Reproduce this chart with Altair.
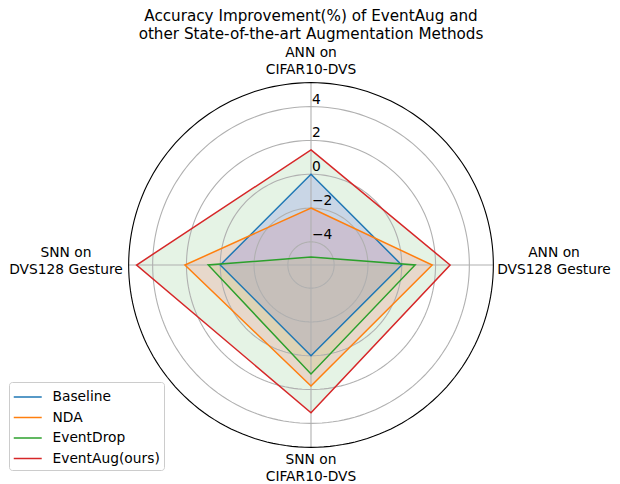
import altair as alt
import pandas as pd

# ---------------- data ----------------
categories = ["ANN on\nCIFAR10-DVS", "ANN on\nDVS128 Gesture",
              "SNN on\nCIFAR10-DVS", "SNN on\nDVS128 Gesture"]
series_names = ["Baseline", "NDA", "EventDrop", "EventAug(ours)"]
baseline = [0.0, 0.0, 0.0, 0.0]
nda = [-2.0, 1.80, 1.79, 2.09]
eventdrop = [-4.9, 0.79, 1.08, 0.71]
eventaug = [1.44, 2.86, 3.37, 4.95]
radial_ticks = [-4, -2, 0, 2, 4]
radial_tick_labels = ["−4", "−2", "0", "2", "4"]
r_min, r_max = -5.37, 5.42
title_lines = ["Accuracy Improvement(%) of EventAug and",
               "other State-of-the-art Augmentation Methods"]

# ---------------- style / layout ----------------
line_colors = ["#1f77b4", "#ff7f0e", "#2ca02c", "#d62728"]
fill_style = {"EventAug(ours)": ("#2ca02c", 0.12), "NDA": ("#f04137", 0.15),
              "Baseline": ("#5962ea", 0.20), "EventDrop": ("#afbe3c", 0.15)}
fill_order = ["EventAug(ours)", "NDA", "Baseline", "EventDrop"]
PX = 16.9            # pixels per radial unit
W = 400              # plot area size (px)
L = W / 2 / PX       # half-domain in radial units
label_radius_px = [212, 243, 195, 245]
label_nudge_px = [0, 12, 0, 12]
FONT = "DejaVu Sans"
FS = 13.8

n = len(categories)
rows = []
for name, vals in zip(series_names, [baseline, nda, eventdrop, eventaug]):
    for i, v in enumerate(vals):
        rows.append({"series": name, "idx": i, "angle": i * 360.0 / n, "value": v})
df = pd.DataFrame(rows)

grid_rows = []
for t in radial_ticks + [r_max]:
    for k in range(0, 360, 2):
        grid_rows.append({"tick": t, "k": k, "angle": float(k), "value": t})
grid_df = pd.DataFrame(grid_rows)

spoke_df = pd.DataFrame({"category": categories,
                         "angle": [i * 360.0 / n for i in range(n)]})
tick_df = pd.DataFrame({"tick": radial_ticks, "label": radial_tick_labels})
cat_df = pd.DataFrame({"category": categories,
                       "angle": [i * 360.0 / n for i in range(n)],
                       "rl": label_radius_px, "nudge": label_nudge_px})

xs = alt.Scale(domain=[-L, L], nice=False, zero=False)
ys = alt.Scale(domain=[-L, L], nice=False, zero=False)

def polar(chart):
    return chart.transform_calculate(
        r=f"datum.value - ({r_min})"
    ).transform_calculate(
        x="datum.r * sin(datum.angle * PI / 180)",
        y="datum.r * cos(datum.angle * PI / 180)",
    )

X = alt.X("x:Q", scale=xs, axis=None)
Y = alt.Y("y:Q", scale=ys, axis=None)

layers = []
for name in fill_order:
    col, a = fill_style[name]
    layers.append(
        polar(alt.Chart(df[df.series == name]))
        .mark_line(interpolate="linear-closed", fill=col, fillOpacity=a,
                   strokeOpacity=0, strokeWidth=0)
        .encode(x=X, y=Y, order=alt.Order("idx:Q"))
    )

grid = polar(alt.Chart(grid_df[grid_df.tick != r_max])).mark_line(
    interpolate="linear-closed", color="#b0b0b0", strokeWidth=1.1
).encode(x=X, y=Y, detail="tick:N", order=alt.Order("k:Q"))
layers.append(grid)

spokes = alt.Chart(spoke_df).transform_calculate(
    x2=f"({r_max} - ({r_min})) * sin(datum.angle * PI / 180)",
    y2=f"({r_max} - ({r_min})) * cos(datum.angle * PI / 180)",
    zero="0",
).mark_rule(color="#b0b0b0", strokeWidth=1.1).encode(
    x=alt.X("zero:Q", scale=xs, axis=None), y=alt.Y("zero:Q", scale=ys, axis=None),
    x2="x2:Q", y2="y2:Q"
)
layers.append(spokes)

outer = polar(alt.Chart(grid_df[grid_df.tick == r_max])).mark_line(
    interpolate="linear-closed", color="black", strokeWidth=1.1
).encode(x=X, y=Y, detail="tick:N", order=alt.Order("k:Q"))
layers.append(outer)

lines = polar(alt.Chart(df)).mark_line(
    interpolate="linear-closed", strokeWidth=1.5
).encode(
    x=X, y=Y, order=alt.Order("idx:Q"),
    color=alt.Color(
        "series:N",
        scale=alt.Scale(domain=series_names, range=line_colors),
        legend=alt.Legend(
            title=None, orient="none", legendX=-102, legendY=317,
            symbolType="M-1,0H1.73", symbolSize=420, symbolStrokeWidth=1.5,
            labelFont=FONT, labelFontSize=FS, labelColor="black",
            fillColor="white", strokeColor="#cccccc", cornerRadius=3,
            padding=4, rowPadding=2.5, labelOffset=17.5,
        ),
    ),
)
layers.append(lines)

ticks = alt.Chart(tick_df).transform_calculate(
    x="0", y=f"datum.tick - ({r_min})"
).mark_text(align="left", baseline="alphabetic", dx=1, dy=-3,
            font=FONT, fontSize=FS, color="black").encode(
    x=X, y=Y, text="label:N")
layers.append(ticks)

cat_labels = alt.Chart(cat_df).transform_calculate(
    x=f"datum.rl / {PX} * sin(datum.angle * PI / 180)",
    y=f"(datum.rl * cos(datum.angle * PI / 180) + datum.nudge) / {PX}",
).mark_text(align="center", baseline="middle", lineBreak="\n", lineHeight=17,
            font=FONT, fontSize=FS, color="black").encode(
    x=X, y=Y, text="category:N")
layers.append(cat_labels)

chart = alt.layer(*layers).properties(
    width=W, height=W,
    padding={"left": 103, "top": 57, "right": 101, "bottom": 19},
    autosize=alt.AutoSizeParams(type="none"),
    title=alt.TitleParams(text=title_lines, font=FONT, fontSize=15.2,
                          fontWeight="normal", color="black", anchor="middle",
                          frame="group", offset=17, lineHeight=18, dy=13),
).configure_view(strokeWidth=0)

chart.save("out.html", embed_options={"renderer": "svg", "actions": False})
